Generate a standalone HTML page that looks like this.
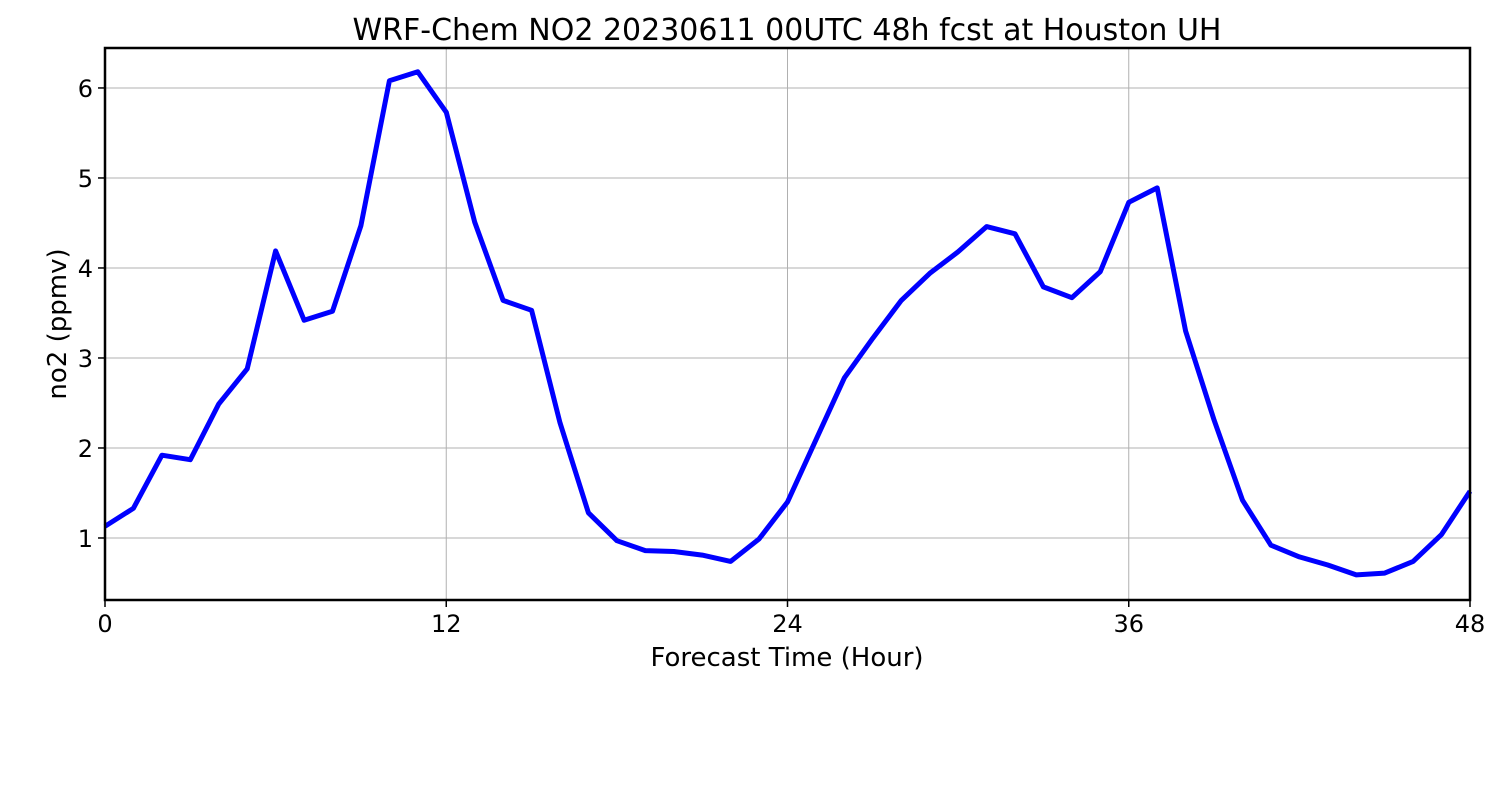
<!DOCTYPE html>
<html><head><meta charset="utf-8"><style>
body{margin:0;background:#fff;}
svg{display:block;font-family:"DejaVu Sans","Liberation Sans",sans-serif;}
</style></head><body>
<svg id="chart" width="1500" height="800">
<rect x="0" y="0" width="1500" height="800" fill="#fff"/>
<text x="787" y="40" font-size="30" text-anchor="middle">WRF-Chem NO2  20230611 00UTC 48h fcst at Houston UH</text>
<g id="grid"></g>
<g id="xticks"></g>
<g id="yticks"></g>
<polyline id="line" fill="none" stroke="#0000ff" stroke-width="5" stroke-linejoin="round"/>
<rect x="105" y="48" width="1365" height="552" fill="none" stroke="#000" stroke-width="2.5"/>
<text x="787" y="666" font-size="26" text-anchor="middle">Forecast Time (Hour)</text>
<text transform="translate(66,324) rotate(-90)" font-size="26" text-anchor="middle">no2  (ppmv)</text>
</svg>
<script>
const hours = [0,1,2,3,4,5,6,7,8,9,10,11,12,13,14,15,16,17,18,19,20,21,22,23,24,25,26,27,28,29,30,31,32,33,34,35,36,37,38,39,40,41,42,43,44,45,46,47,48];
const no2 = [1.13,1.33,1.92,1.87,2.49,2.88,4.19,3.42,3.52,4.47,6.08,6.18,5.73,4.51,3.64,3.53,2.28,1.28,0.97,0.86,0.85,0.81,0.74,0.99,1.40,2.09,2.78,3.22,3.64,3.94,4.18,4.46,4.38,3.79,3.67,3.96,4.73,4.89,3.30,2.31,1.42,0.92,0.79,0.70,0.59,0.61,0.74,1.04,1.52];
const xTicks = [0,12,24,36,48];
const yTicks = [1,2,3,4,5,6];
const X0=105,X1=1470,Y0=600,Y1=48,xmin=0,xmax=48,ymin=0.311,ymax=6.444;
function xs(v){return X0+(v-xmin)/(xmax-xmin)*(X1-X0);}
function ys(v){return Y0-(v-ymin)/(ymax-ymin)*(Y0-Y1);}
const NS="http://www.w3.org/2000/svg";
const grid=document.getElementById('grid'),xg=document.getElementById('xticks'),yg=document.getElementById('yticks');
function mk(tag,attrs,parent){const e=document.createElementNS(NS,tag);for(const k in attrs)e.setAttribute(k,attrs[k]);parent.appendChild(e);return e;}
xTicks.forEach(t=>{
  const x=xs(t);
  const g=mk('line',{x1:x,x2:x,y1:Y1,y2:Y0,stroke:'#b0b0b0','stroke-width':1},grid);
  
  
  const tk=mk('line',{x1:x,x2:x,y1:Y0,y2:Y0+7,stroke:'#000','stroke-width':1.5},xg);
  
  
  const tx=mk('text',{x:x,y:632,'font-size':24,'text-anchor':'middle'},xg);
  tx.textContent=t;
  
  
});
yTicks.forEach(t=>{
  const y=ys(t);
  const g=mk('line',{x1:X0,x2:X1,y1:y,y2:y,stroke:'#b0b0b0','stroke-width':1},grid);
  
  
  const tk=mk('line',{x1:X0-7,x2:X0,y1:y,y2:y,stroke:'#000','stroke-width':1.5},yg);
  
  
  const tx=mk('text',{x:X0-12,y:y+9,'font-size':24,'text-anchor':'end'},yg);
  tx.textContent=t;
  
  
});
document.getElementById('line').setAttribute('points',hours.map((h,i)=>xs(h).toFixed(1)+','+ys(no2[i]).toFixed(1)).join(' '));
</script>
</body></html>
